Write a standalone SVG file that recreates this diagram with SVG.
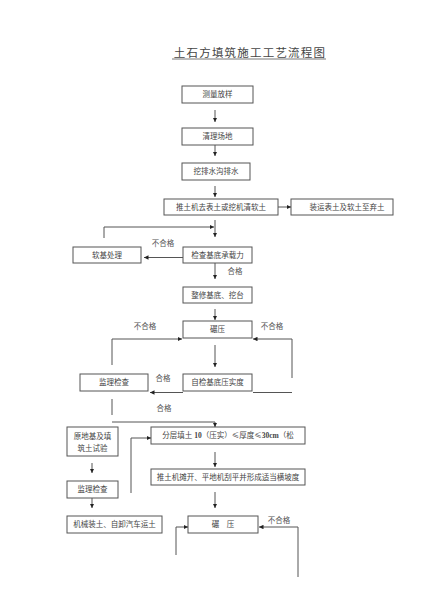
<svg xmlns="http://www.w3.org/2000/svg" width="424" height="600" viewBox="0 0 424 600">
<defs>
<marker id="ah" viewBox="0 0 6 6" refX="6" refY="3" markerWidth="4.5" markerHeight="4.5" orient="auto" markerUnits="userSpaceOnUse">
<path d="M0,0 L6,3 L0,6 Z" fill="#222"/>
</marker>
<style>
.box{fill:#fff;stroke:#555;stroke-width:1}
.t{font-family:"Liberation Serif","Noto Sans CJK SC",serif;font-size:7.5px;fill:#444;text-anchor:middle}
.lb{font-family:"Liberation Serif","Noto Sans CJK SC",serif;font-size:7.5px;fill:#555;text-anchor:middle}
.cjk{font-family:"Noto Sans CJK SC",sans-serif}
.c{fill:none;stroke:#555;stroke-width:1}
.a{fill:none;stroke:#555;stroke-width:1;marker-end:url(#ah)}
</style>
</defs>
<rect width="424" height="600" fill="#fff"/>
<g id="title">
<text x="250" y="57" font-family="Liberation Serif,Noto Sans CJK SC,serif" font-size="11.5" letter-spacing="1.2" fill="#444" text-anchor="middle">土石方填筑施工工艺流程图</text>
<line x1="172" y1="59" x2="326" y2="59" stroke="#555" stroke-width="0.8"/>
</g>
<g id="n1"><rect class="box" x="182" y="86" width="71" height="17"/><text class="t" x="217.5" y="97">测量放样</text></g>
<g id="n2"><rect class="box" x="182" y="128" width="71" height="17"/><text class="t" x="217.5" y="139">清理场地</text></g>
<g id="n3"><rect class="box" x="182" y="163" width="68" height="17"/><text class="t" x="216" y="174">挖排水沟排水</text></g>
<g id="n4"><rect class="box" x="164" y="199" width="114" height="16"/><text class="t" x="221" y="210">推土机去表土或挖机清软土</text></g>
<g id="n5"><rect class="box" x="291" y="199" width="102" height="16"/><text class="t" x="347" y="210">装运表土及软土至弃土</text></g>
<g id="n6"><rect class="box" x="73" y="247" width="68" height="16"/><text class="t" x="107" y="258">软基处理</text></g>
<g id="n7"><rect class="box" x="183" y="247" width="69" height="16"/><text class="t" x="217.5" y="258">检查基底承载力</text></g>
<g id="n8"><rect class="box" x="183" y="287" width="69" height="16"/><text class="t" x="217.5" y="298">整修基底、挖台</text></g>
<g id="n9"><rect class="box" x="183" y="321" width="69" height="17"/><text class="t" x="217.5" y="332">碾压</text></g>
<g id="n10"><rect class="box" x="183" y="374" width="69" height="17"/><text class="t" x="217.5" y="385">自检基底压实度</text></g>
<g id="n11"><rect class="box" x="80" y="374" width="68" height="17"/><text class="t" x="114" y="385">监理检查</text></g>
<g id="n12"><rect class="box" x="67" y="427" width="51" height="29"/><text class="t" x="92.5" y="439">原地基及填</text><text class="t" x="92.5" y="451">筑土试验</text></g>
<g id="n13"><rect class="box" x="151" y="427" width="154" height="17"/><text class="t" x="228" y="438">分层填土 <tspan font-weight="bold">10</tspan>（压实）<tspan class="cjk">≤</tspan>厚度<tspan class="cjk">≤</tspan><tspan font-weight="bold">30cm</tspan>（松</text></g>
<g id="n14"><rect class="box" x="151" y="469" width="154" height="16"/><text class="t" x="228" y="480">推土机摊开、平地机刮平并形成适当横坡度</text></g>
<g id="n15"><rect class="box" x="67" y="481" width="51" height="17"/><text class="t" x="92.5" y="492">监理检查</text></g>
<g id="n16"><rect class="box" x="67" y="516" width="95" height="17"/><text class="t" x="114.5" y="527">机械装土、自卸汽车运土</text></g>
<g id="n17"><rect class="box" x="188" y="516" width="70" height="17"/><text class="t" x="223" y="527" xml:space="preserve">碾    压</text></g>
<g id="connectors">
<line class="a" x1="215" y1="110" x2="215" y2="122"/>
<line class="a" x1="215" y1="145" x2="215" y2="156"/>
<line class="a" x1="215" y1="186" x2="215" y2="197"/>
<line class="a" x1="278" y1="207" x2="291" y2="207"/>
<polyline class="a" points="104,238 104,227 214,227"/>
<line class="a" x1="215" y1="220" x2="215" y2="237"/>
<line class="a" x1="183" y1="257.5" x2="144" y2="257.5"/>
<line class="a" x1="215" y1="263" x2="215" y2="279"/>
<line class="a" x1="215" y1="309" x2="215" y2="320"/>
<polyline class="a" points="112,365 112,339 182,339"/>
<polyline class="a" points="292,378 292,339 253,339"/>
<line class="a" x1="215" y1="345" x2="215" y2="367"/>
<line class="a" x1="183" y1="392.5" x2="150" y2="392.5"/>
<line class="c" x1="253" y1="392.5" x2="292" y2="392.5"/>
<line class="c" x1="112" y1="399" x2="112" y2="415"/>
<polyline class="a" points="112,422 215,422 215,427"/>
<line class="a" x1="92" y1="463" x2="92" y2="473"/>
<line class="a" x1="92" y1="498" x2="92" y2="508"/>
<polyline class="a" points="131,493 131,438 151,438"/>
<line class="a" x1="215" y1="452" x2="215" y2="467"/>
<line class="a" x1="215" y1="492" x2="215" y2="508"/>
<polyline class="a" points="176,555 176,527 188,527"/>
<polyline class="a" points="298,577 298,527 259,527"/>
</g>
<g id="labels">
<text class="lb" x="163" y="246">不合格</text>
<text class="lb" x="235" y="274">合格</text>
<text class="lb" x="145" y="329">不合格</text>
<text class="lb" x="272" y="329">不合格</text>
<text class="lb" x="163" y="381">合格</text>
<text class="lb" x="164" y="411">合格</text>
<text class="lb" x="279" y="523">不合格</text>
</g>
</svg>
